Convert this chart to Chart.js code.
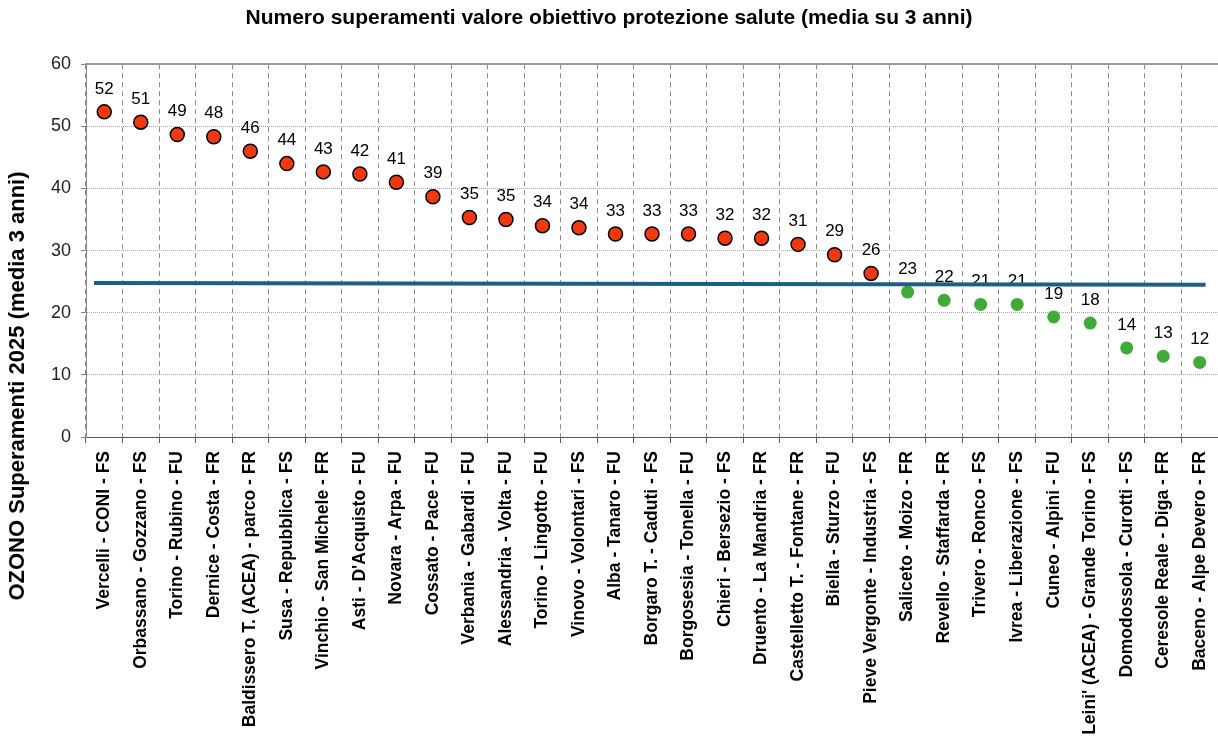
<!DOCTYPE html>
<html lang="it">
  <head>
    <meta charset="UTF-8" />
    <title>Superamenti ozono</title>
    <style>
      html,
      body {
        margin: 0;
        padding: 0;
        background: #fff;
        overflow: hidden;
      }
      .wrap {
        width: 1218px;
        height: 740px;
        position: relative;
      }
    </style>
  </head>
  <body>
    <div class="wrap"><canvas id="chart"></canvas></div>
    <script src="https://cdn.jsdelivr.net/npm/chart.js@4.4.1/dist/chart.umd.min.js"></script>
    <script>
      const stations = [
        "Vercelli - CONI - FS",
        "Orbassano - Gozzano - FS",
        "Torino - Rubino - FU",
        "Dernice - Costa - FR",
        "Baldissero T. (ACEA) - parco - FR",
        "Susa - Repubblica - FS",
        "Vinchio - San Michele - FR",
        "Asti - D'Acquisto - FU",
        "Novara - Arpa - FU",
        "Cossato - Pace - FU",
        "Verbania - Gabardi - FU",
        "Alessandria - Volta - FU",
        "Torino - Lingotto - FU",
        "Vinovo - Volontari - FS",
        "Alba - Tanaro - FU",
        "Borgaro T. - Caduti - FS",
        "Borgosesia - Tonella - FU",
        "Chieri - Bersezio - FS",
        "Druento - La Mandria - FR",
        "Castelletto T. - Fontane - FR",
        "Biella - Sturzo - FU",
        "Pieve Vergonte - Industria - FS",
        "Saliceto - Moizo - FR",
        "Revello - Staffarda - FR",
        "Trivero - Ronco - FS",
        "Ivrea - Liberazione - FS",
        "Cuneo - Alpini - FU",
        "Leini' (ACEA) - Grande Torino - FS",
        "Domodossola - Curotti - FS",
        "Ceresole Reale - Diga - FR",
        "Baceno - Alpe Devero - FR",
      ];

      // media su 3 anni
      const exceedances = [
        52.33, 50.67, 48.67, 48.33, 46.0, 44.0, 42.67, 42.33, 41.0, 38.67,
        35.33, 35.0, 34.0, 33.67, 32.67, 32.67, 32.67, 32.0, 32.0, 31.0,
        29.33, 26.33, 23.33, 22.0, 21.33, 21.33, 19.33, 18.33, 14.33, 13.0,
        12.0,
      ];

      // valore obiettivo (linea blu), x in unita' di categoria
      const targetLine = [
        { x: -0.28, y: 24.8 },
        { x: 30.16, y: 24.5 },
      ];
      const threshold = 25;

      const yTicks = [0, 10, 20, 30, 40, 50, 60];

      const FONT = "'Liberation Sans', Arial, sans-serif";
      const RED = "#f2380f";
      const GREEN = "#3faa35";

      const valueLabels = {
        id: "valueLabels",
        afterDatasetDraw(chart, args) {
          if (args.index !== 0) return;
          const ctx = chart.ctx;
          ctx.save();
          ctx.font = "17px " + FONT;
          ctx.fillStyle = "#000";
          ctx.textAlign = "center";
          ctx.textBaseline = "middle";
          args.meta.data.forEach((pt, i) => {
            ctx.fillText(Math.round(exceedances[i]), pt.x, pt.y - 23);
          });
          ctx.restore();
        },
        afterDraw(chart) {
          const ctx = chart.ctx;
          ctx.save();
          ctx.translate(18, 386);
          ctx.rotate(-Math.PI / 2);
          ctx.font = "bold 22px " + FONT;
          ctx.fillStyle = "#000";
          ctx.textAlign = "center";
          ctx.textBaseline = "middle";
          ctx.fillText("OZONO Superamenti 2025 (media 3 anni)", 0, 0);
          ctx.restore();
        },
      };

      new Chart(document.getElementById("chart"), {
        type: "line",
        data: {
          labels: stations,
          datasets: [
            {
              label: "superamenti",
              data: exceedances,
              xAxisID: "x",
              showLine: false,
              order: 1,
              pointRadius: (c) => (exceedances[c.dataIndex] > threshold ? 7 : 6.5),
              pointBackgroundColor: (c) =>
                exceedances[c.dataIndex] > threshold ? RED : GREEN,
              pointBorderColor: (c) =>
                exceedances[c.dataIndex] > threshold ? "#000" : GREEN,
              pointBorderWidth: (c) =>
                exceedances[c.dataIndex] > threshold ? 1.5 : 0,
            },
            {
              label: "valore obiettivo",
              data: targetLine,
              xAxisID: "x2",
              order: 0,
              borderColor: "#1d5d86",
              borderWidth: 4,
              pointRadius: 0,
            },
          ],
        },
        options: {
          responsive: true,
          maintainAspectRatio: false,
          animation: false,
          layout: {
            autoPadding: false,
            padding: { left: 0, right: 0, top: 0, bottom: 0 },
          },
          plugins: {
            legend: { display: false },
            tooltip: { enabled: false },
            title: {
              display: true,
              text: "Numero superamenti valore obiettivo protezione salute (media su 3 anni)",
              color: "#000",
              font: { family: FONT, size: 21, weight: "bold" },
              padding: { top: 6, bottom: 33 },
            },
          },
          scales: {
            x: {
              type: "category",
              offset: true,
              grid: {
                offset: true,
                color: "#8c8c8c",
                lineWidth: 1,
                tickLength: 6,
                tickColor: "#595959",
                tickBorderDash: [],
              },
              border: { color: "#595959", width: 1, dash: [5, 4] },
              ticks: {
                autoSkip: false,
                maxRotation: 90,
                minRotation: 90,
                padding: 8,
                color: "#000",
                font: { family: FONT, size: 17.5, weight: "bold" },
              },
              afterFit(scale) {
                scale.height = 303;
                scale.paddingLeft = 0;
                scale.paddingRight = 0;
              },
            },
            x2: {
              type: "linear",
              position: "top",
              min: -0.5,
              max: 30.5,
              grid: { display: false, drawTicks: false },
              ticks: { display: false },
              border: { color: "#9a9a9a", width: 2 },
              afterFit(scale) {
                scale.height = 0;
                scale.paddingLeft = 0;
                scale.paddingRight = 0;
              },
            },
            y: {
              min: 0,
              max: 60,
              afterBuildTicks(scale) {
                scale.ticks = yTicks.map((v) => ({ value: v }));
              },
              grid: {
                color: "#a6a6a6",
                lineWidth: 1,
                tickLength: 5,
                tickColor: "#868686",
                tickBorderDash: [],
              },
              border: { color: "#868686", width: 1, dash: [1, 1] },
              ticks: {
                padding: 10,
                color: "#222",
                font: { family: FONT, size: 18 },
              },
              afterFit(scale) {
                scale.width = 86;
              },
            },
          },
        },
        plugins: [valueLabels],
      });
    </script>
  </body>
</html>
